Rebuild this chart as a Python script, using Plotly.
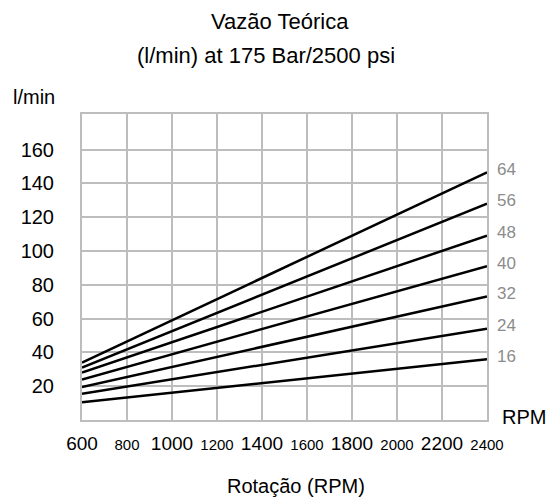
import plotly.graph_objects as go

# --- Data ---
rpm = [600, 2400]
displacements = [16, 24, 32, 40, 48, 56, 64]
flow_at_600 = [10.5, 15.5, 19.5, 24, 28, 31, 34]
flow_at_2400 = [36, 54, 73, 91, 109, 128, 146.5]

x_ticks = [600, 800, 1000, 1200, 1400, 1600, 1800, 2000, 2200, 2400]
x_tick_big = [True, False, True, False, True, False, True, False, True, False]
y_ticks = [20, 40, 60, 80, 100, 120, 140, 160]

FONT = "Liberation Sans, Arial, sans-serif"
GRID = "#bdbdbd"

fig = go.Figure()
for d, y0, y1 in zip(displacements, flow_at_600, flow_at_2400):
    fig.add_trace(go.Scatter(x=rpm, y=[y0, y1], mode="lines",
                             line=dict(color="black", width=2.5),
                             name=str(d), hoverinfo="skip"))
    # displacement label at the right end of each line
    fig.add_annotation(x=2400, y=y1, text=str(d), showarrow=False,
                       xanchor="left", xshift=8, yshift=3,
                       font=dict(size=17, color="#8c8c8c", family=FONT))

x_text = [f'<span style="font-size:{19 if big else 15}px">{v}</span>'
          for v, big in zip(x_ticks, x_tick_big)]

fig.update_xaxes(range=[600, 2400], tickvals=x_ticks, ticktext=x_text,
                 showgrid=True, gridcolor=GRID, gridwidth=2,
                 showline=True, linecolor=GRID, linewidth=2, mirror=True,
                 zeroline=False, ticklabelstandoff=5,
                 tickfont=dict(size=19, color="black", family=FONT))
fig.update_yaxes(range=[0, 181], tickvals=y_ticks,
                 showgrid=True, gridcolor=GRID, gridwidth=2,
                 showline=True, linecolor=GRID, linewidth=2, mirror=True,
                 zeroline=False, ticklabelstandoff=22,
                 tickfont=dict(size=20, color="black", family=FONT))

# --- Titles and axis captions ---
def px_x(px):
    return (px - 82) / 405

def px_y(py):
    return (420 - py) / 306

texts = [
    ("Vazão Teórica", 280, 22, 22),
    ("(l/min) at 175 Bar/2500 psi", 266, 55, 22),
    ("l/min", 34, 97, 20),
    ("RPM", 524, 417, 20),
    ("Rotação (RPM)", 296, 486, 20),
]
for t, cx, cy, size in texts:
    fig.add_annotation(xref="paper", yref="paper", x=px_x(cx), y=px_y(cy),
                       text=t, showarrow=False, xanchor="center", yanchor="middle",
                       font=dict(size=size, color="black", family=FONT))

fig.update_layout(width=552, height=499,
                  margin=dict(l=82, r=65, t=114, b=79),
                  paper_bgcolor="white", plot_bgcolor="white",
                  showlegend=False, font=dict(family=FONT))

# remove the default page margin so the figure sits at the window's corner
fig.write_html("out.html", config={"displayModeBar": False},
               post_script="document.body.style.margin='0';")
